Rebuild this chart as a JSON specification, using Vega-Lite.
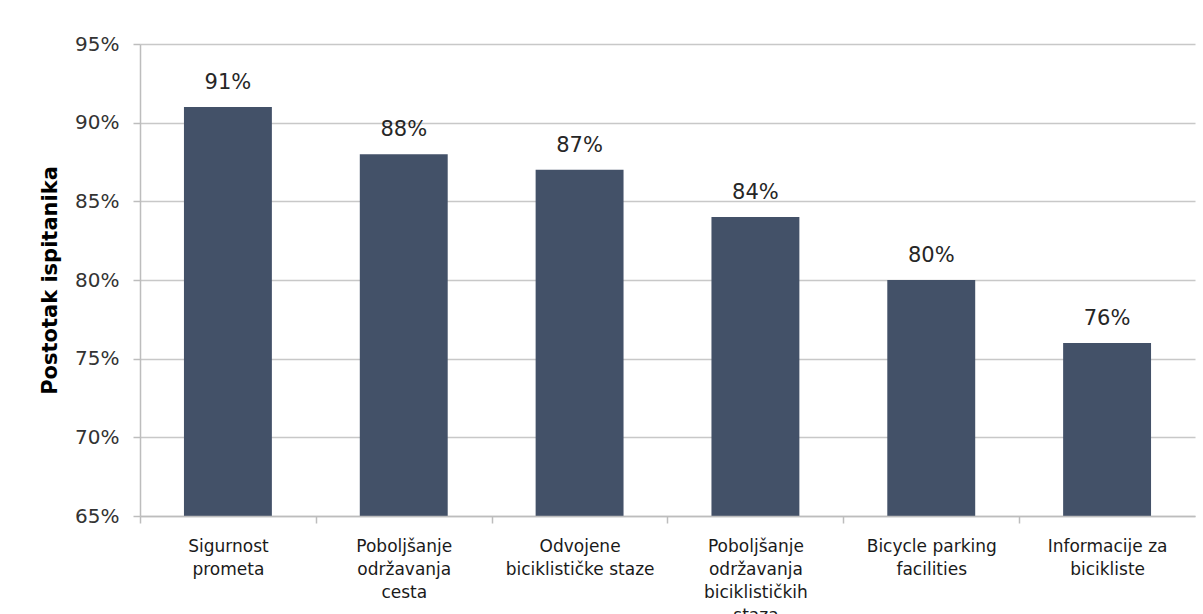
{
  "$schema": "https://vega.github.io/schema/vega-lite/v6.json",
  "width": 1055,
  "height": 472,
  "autosize": {"type": "none"},
  "padding": {"left": 140, "top": 44, "right": 8, "bottom": 98},
  "background": "white",
  "config": {
    "view": {"stroke": null},
    "font": "DejaVu Sans"
  },
  "data": {
    "values": [
      {"kategorija": "Sigurnost|prometa", "postotak": 91, "etiketa": "91%"},
      {"kategorija": "Poboljšanje|održavanja|cesta", "postotak": 88, "etiketa": "88%"},
      {"kategorija": "Odvojene|biciklističke staze", "postotak": 87, "etiketa": "87%"},
      {"kategorija": "Poboljšanje|održavanja|biciklističkih|staza", "postotak": 84, "etiketa": "84%"},
      {"kategorija": "Bicycle parking|facilities", "postotak": 80, "etiketa": "80%"},
      {"kategorija": "Informacije za|bicikliste", "postotak": 76, "etiketa": "76%"}
    ]
  },
  "encoding": {
    "x": {
      "field": "kategorija",
      "type": "nominal",
      "sort": null,
      "scale": {"paddingInner": 0.5, "paddingOuter": 0.25},
      "axis": {
        "title": null,
        "labelAngle": 0,
        "labelExpr": "split(datum.label, '|')",
        "labelFontSize": 17,
        "labelColor": "#1a1a1a",
        "labelLineHeight": 23,
        "labelPadding": 15,
        "labelBaseline": "top",
        "tickOffset": -88,
        "labelOffset": 88,
        "tickColor": "#bdbdbd",
        "tickSize": 7,
        "tickWidth": 1.5,
        "domainColor": "#bdbdbd",
        "domainWidth": 1.5,
        "labelLimit": 200,
        "zindex": 1
      }
    },
    "y": {
      "field": "postotak",
      "type": "quantitative",
      "scale": {"domain": [65, 95], "nice": false, "zero": false},
      "axis": {
        "title": "Postotak ispitanika",
        "titleFontSize": 21,
        "titleFontWeight": "bold",
        "titleColor": "#000000",
        "titlePadding": 14,
        "values": [65, 70, 75, 80, 85, 90, 95],
        "labelExpr": "datum.value + '%'",
        "labelFontSize": 20,
        "labelColor": "#333333",
        "labelPadding": 14,
        "grid": true,
        "gridColor": "#c8c8c8",
        "gridWidth": 1.5,
        "tickColor": "#bdbdbd",
        "tickSize": 7,
        "tickWidth": 1.5,
        "domainColor": "#bdbdbd",
        "domainWidth": 1.5
      }
    }
  },
  "layer": [
    {"mark": {"type": "bar", "color": "#435168", "clip": true}},
    {
      "mark": {"type": "text", "baseline": "bottom", "dy": -14, "fontSize": 21, "color": "#262626"},
      "encoding": {"text": {"field": "etiketa", "type": "nominal"}}
    }
  ]
}
